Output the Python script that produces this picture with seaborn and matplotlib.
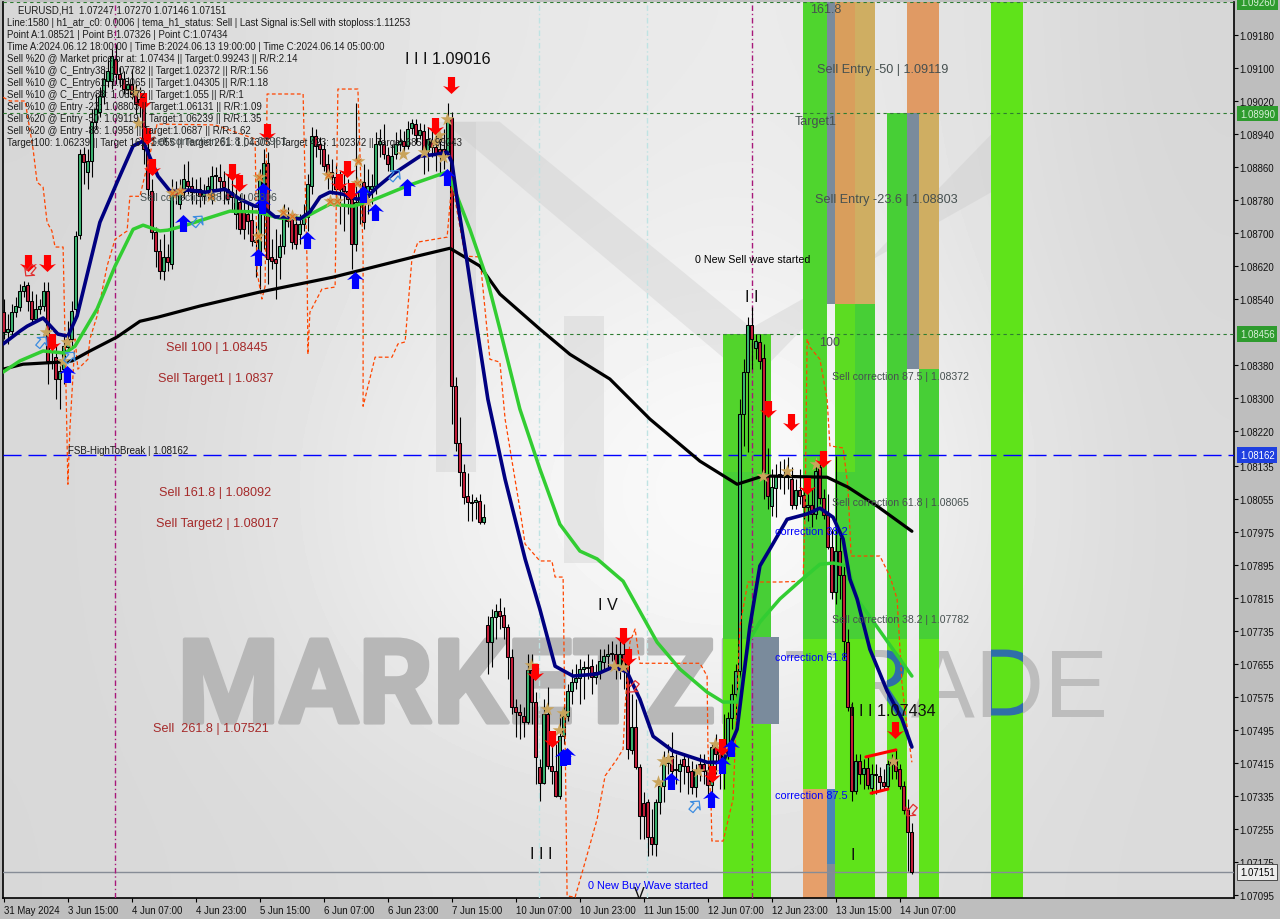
import matplotlib
matplotlib.use("Agg")
import matplotlib.pyplot as plt
import matplotlib.patheffects as pe
import numpy as np
import seaborn as sns
from matplotlib.path import Path
from matplotlib.transforms import Affine2D

# EURUSD H1 candles
opens = [1.08508,1.08460,1.08462,1.08508,1.08520,1.08559,1.08574,1.08535,1.08491,1.08516,1.08523,1.08559,1.08390,1.08399,1.08346,1.08370,
1.08423,1.08443,1.08516,1.08695,1.08891,1.08848,1.08874,1.08969,1.08993,1.09032,1.09068,1.09068,1.09122,1.09085,1.09073,1.09049,
1.09061,1.09037,1.09025,1.09008,1.08903,1.08802,1.08702,1.08656,1.08608,1.08642,1.08625,1.08802,1.08770,1.08799,1.08826,1.08814,
1.08799,1.08806,1.08789,1.08802,1.08806,1.08838,1.08836,1.08826,1.08806,1.08799,1.08746,1.08775,1.08751,1.08746,1.08731,1.08683,
1.08654,1.08806,1.08869,1.08642,1.08637,1.08642,1.08668,1.08739,1.08734,1.08722,1.08697,1.08722,1.08739,1.08814,1.08935,1.08916,
1.08903,1.08867,1.08848,1.08836,1.08806,1.08814,1.08802,1.08782,1.08673,1.08775,1.08823,1.08787,1.08806,1.08814,1.08916,1.08916,
1.08889,1.08850,1.08891,1.08916,1.08923,1.08911,1.08954,1.08964,1.08937,1.08947,1.08899,1.08923,1.08908,1.08903,1.08903,1.08896,
1.08979,1.08329,1.08191,1.08120,1.08062,1.08048,1.08048,1.08050,1.07999,1.07750,1.07708,1.07769,1.07783,1.07774,1.07745,1.07672,
1.07551,1.07539,1.07529,1.07514,1.07640,1.07563,1.07405,1.07367,1.07534,1.07408,1.07396,1.07335,1.07480,1.07529,1.07590,1.07611,
1.07621,1.07643,1.07648,1.07650,1.07624,1.07636,1.07660,1.07674,1.07679,1.07679,1.07650,1.07679,1.07655,1.07447,1.07502,1.07405,
1.07318,1.07321,1.07236,1.07219,1.07321,1.07359,1.07415,1.07432,1.07400,1.07396,1.07425,1.07408,1.07396,1.07357,1.07413,1.07413,
1.07398,1.07362,1.07454,1.07442,1.07417,1.07461,1.07524,1.07582,1.07638,1.08261,1.08363,1.08477,1.08421,1.08436,1.08397,1.08111,
1.08038,1.08082,1.08113,1.08108,1.08123,1.08103,1.08040,1.08077,1.08065,1.08036,1.08040,1.08019,1.08133,1.08057,1.08016,1.07939,
1.07830,1.07929,1.07871,1.07708,1.07551,1.07347,1.07420,1.07388,1.07403,1.07355,1.07388,1.07384,1.07369,1.07359,1.07413,1.07425,
1.07400,1.07359,1.07301,1.07247]
closes = [1.08460,1.08467,1.08508,1.08523,1.08559,1.08571,1.08535,1.08491,1.08516,1.08523,1.08559,1.08390,1.08387,1.08346,1.08365,1.08426,
1.08443,1.08511,1.08693,1.08891,1.08872,1.08874,1.08969,1.09000,1.09032,1.09073,1.09092,1.09129,1.09085,1.09073,1.09049,1.09061,
1.09037,1.09012,1.09010,1.08903,1.08806,1.08702,1.08656,1.08608,1.08642,1.08630,1.08802,1.08792,1.08799,1.08831,1.08814,1.08799,
1.08806,1.08789,1.08802,1.08814,1.08838,1.08840,1.08826,1.08811,1.08782,1.08787,1.08787,1.08709,1.08709,1.08729,1.08680,1.08678,
1.08831,1.08869,1.08637,1.08632,1.08627,1.08668,1.08739,1.08729,1.08678,1.08673,1.08722,1.08739,1.08819,1.08935,1.08911,1.08903,
1.08862,1.08848,1.08836,1.08806,1.08814,1.08802,1.08782,1.08673,1.08775,1.08799,1.08726,1.08814,1.08814,1.08916,1.08923,1.08891,
1.08867,1.08886,1.08916,1.08923,1.08911,1.08952,1.08966,1.08937,1.08949,1.08899,1.08928,1.08908,1.08891,1.08889,1.08879,1.08976,
1.08329,1.08191,1.08120,1.08060,1.08048,1.08045,1.08053,1.07999,1.08011,1.07708,1.07769,1.07783,1.07771,1.07745,1.07672,1.07551,
1.07539,1.07531,1.07514,1.07640,1.07563,1.07430,1.07367,1.07534,1.07408,1.07396,1.07335,1.07480,1.07529,1.07590,1.07611,1.07621,
1.07643,1.07648,1.07645,1.07624,1.07636,1.07662,1.07674,1.07679,1.07682,1.07650,1.07679,1.07650,1.07449,1.07502,1.07405,1.07287,
1.07287,1.07236,1.07219,1.07321,1.07359,1.07417,1.07430,1.07396,1.07398,1.07413,1.07408,1.07393,1.07357,1.07396,1.07396,1.07396,
1.07362,1.07454,1.07437,1.07417,1.07461,1.07524,1.07582,1.07638,1.08261,1.08363,1.08477,1.08443,1.08438,1.08390,1.08120,1.08062,
1.08084,1.08111,1.08116,1.08113,1.08113,1.08040,1.08077,1.08062,1.08036,1.08040,1.08019,1.08123,1.08057,1.08016,1.07939,1.07830,
1.07929,1.07871,1.07711,1.07551,1.07347,1.07420,1.07388,1.07403,1.07362,1.07388,1.07386,1.07369,1.07359,1.07413,1.07420,1.07396,
1.07359,1.07301,1.07248,1.07151]
highs = [1.08540,1.08503,1.08528,1.08545,1.08576,1.08583,1.08581,1.08559,1.08552,1.08540,1.08581,1.08581,1.08414,1.08431,1.08394,1.08455,
1.08486,1.08535,1.08705,1.08903,1.08908,1.08903,1.09000,1.09037,1.09054,1.09097,1.09122,1.09146,1.09158,1.09102,1.09092,1.09078,
1.09097,1.09061,1.09054,1.09037,1.08952,1.08831,1.08714,1.08685,1.08697,1.08673,1.08831,1.08826,1.08831,1.08867,1.08874,1.08836,
1.08831,1.08836,1.08819,1.08836,1.08862,1.08860,1.08867,1.08850,1.08843,1.08843,1.08806,1.08794,1.08794,1.08770,1.08770,1.08722,
1.08855,1.08903,1.08896,1.08685,1.08709,1.08697,1.08770,1.08763,1.08753,1.08746,1.08746,1.08770,1.08843,1.08957,1.08952,1.08933,
1.08920,1.08891,1.08879,1.08867,1.08850,1.08843,1.08831,1.08819,1.09015,1.08831,1.08867,1.08855,1.08843,1.08945,1.08952,1.08964,
1.08908,1.08916,1.08945,1.08952,1.08947,1.08971,1.08976,1.08976,1.08966,1.08964,1.08957,1.08957,1.08952,1.08940,1.08952,1.09015,
1.08993,1.08351,1.08254,1.08140,1.08118,1.08067,1.08060,1.08067,1.08043,1.07771,1.07788,1.07800,1.07815,1.07793,1.07752,1.07691,
1.07570,1.07558,1.07551,1.07679,1.07679,1.07587,1.07425,1.07570,1.07599,1.07461,1.07461,1.07534,1.07558,1.07607,1.07643,1.07655,
1.07667,1.07662,1.07679,1.07667,1.07655,1.07691,1.07691,1.07704,1.07711,1.07704,1.07716,1.07728,1.07679,1.07582,1.07570,1.07413,
1.07345,1.07328,1.07304,1.07328,1.07364,1.07444,1.07461,1.07490,1.07437,1.07425,1.07437,1.07430,1.07420,1.07413,1.07437,1.07437,
1.07420,1.07461,1.07485,1.07473,1.07534,1.07539,1.07607,1.07655,1.08297,1.08394,1.08496,1.08520,1.08455,1.08455,1.08431,1.08179,
1.08128,1.08140,1.08147,1.08152,1.08157,1.08133,1.08103,1.08128,1.08103,1.08067,1.08079,1.08152,1.08164,1.08079,1.08067,1.07982,
1.08159,1.07963,1.07897,1.07740,1.07563,1.07437,1.07437,1.07425,1.07430,1.07413,1.07413,1.07405,1.07400,1.07425,1.07437,1.07449,
1.07413,1.07371,1.07328,1.07270]
lows = [1.08443,1.08431,1.08448,1.08496,1.08511,1.08545,1.08511,1.08479,1.08486,1.08503,1.08511,1.08334,1.08370,1.08297,1.08273,1.08334,
1.08414,1.08419,1.08503,1.08685,1.08819,1.08806,1.08836,1.08952,1.08981,1.09012,1.09054,1.09049,1.09061,1.09054,1.09037,1.09029,
1.09025,1.08988,1.08981,1.08867,1.08782,1.08685,1.08617,1.08588,1.08586,1.08608,1.08612,1.08770,1.08758,1.08782,1.08794,1.08770,
1.08770,1.08763,1.08770,1.08782,1.08770,1.08802,1.08782,1.08770,1.08770,1.08753,1.08709,1.08697,1.08685,1.08697,1.08668,1.08593,
1.08564,1.08661,1.08576,1.08612,1.08540,1.08588,1.08649,1.08714,1.08661,1.08661,1.08673,1.08705,1.08705,1.08794,1.08884,1.08867,
1.08850,1.08806,1.08794,1.08770,1.08722,1.08705,1.08746,1.08612,1.08656,1.08722,1.08709,1.08746,1.08770,1.08794,1.08884,1.08879,
1.08850,1.08843,1.08879,1.08899,1.08884,1.08903,1.08940,1.08916,1.08928,1.08843,1.08850,1.08884,1.08850,1.08843,1.08855,1.08884,
1.08237,1.08171,1.08086,1.08043,1.08002,1.08002,1.08006,1.07994,1.07994,1.07631,1.07648,1.07716,1.07740,1.07716,1.07619,1.07534,
1.07478,1.07473,1.07478,1.07510,1.07510,1.07364,1.07323,1.07364,1.07400,1.07364,1.07333,1.07328,1.07461,1.07517,1.07558,1.07594,
1.07558,1.07570,1.07619,1.07582,1.07607,1.07619,1.07638,1.07643,1.07662,1.07619,1.07619,1.07594,1.07425,1.07437,1.07400,1.07231,
1.07231,1.07190,1.07192,1.07190,1.07291,1.07321,1.07388,1.07376,1.07364,1.07345,1.07364,1.07340,1.07340,1.07333,1.07371,1.07364,
1.07340,1.07328,1.07388,1.07352,1.07352,1.07425,1.07497,1.07522,1.07619,1.08184,1.08169,1.08370,1.08394,1.08370,1.08055,1.08031,
1.08014,1.08011,1.08079,1.08067,1.08079,1.08031,1.08031,1.08043,1.08006,1.08002,1.07987,1.08006,1.08043,1.08006,1.07934,1.07813,
1.07800,1.07813,1.07667,1.07541,1.07323,1.07340,1.07364,1.07352,1.07352,1.07340,1.07340,1.07347,1.07352,1.07352,1.07376,1.07376,
1.07352,1.07291,1.07153,1.07146]

# indicator lines: bar position, price
navy_x = [-0.1,4.1,5.9,9.9,13.6,16.1,18.4,24.1,28.4,32.4,34.9,38.6,41.6,46.6,50.4,55.4,59.1,62.9,64.6,67.9,70.4,74.1,76.6,79.1,81.6,84.9,88.4,90.9,93.4,97.4,104.1,108.4,110.9,112.1,113.4,115.9,118.4,121.1,125.4,130.4,134.1,137.9,142.4,148.4,152.4,155.9,159.1,162.4,167.4,175.9,179.9,183.4,186.6,189.1,191.6,195.9,200.9,204.1,207.4,209.9,211.6,213.4,216.6,220.9,224.6,227.1]
navy_y = [1.08431,1.08462,1.08474,1.08494,1.08455,1.08450,1.08499,1.08726,1.08823,1.08911,1.08923,1.08838,1.08802,1.08804,1.08799,1.08806,1.08782,1.08765,1.08765,1.08739,1.08739,1.08734,1.08751,1.08787,1.08799,1.08794,1.08782,1.08787,1.08811,1.08843,1.08886,1.08891,1.08896,1.08872,1.08782,1.08630,1.08467,1.08297,1.08103,1.07910,1.07788,1.07650,1.07626,1.07631,1.07648,1.07636,1.07570,1.07480,1.07444,1.07417,1.07417,1.07497,1.07747,1.07893,1.07934,1.08006,1.08019,1.08033,1.08011,1.07958,1.07861,1.07813,1.07691,1.07590,1.07522,1.07454]
green_x = [-0.1,4.1,9.9,15.4,17.9,23.4,27.9,32.4,34.9,39.1,41.1,44.9,56.6,63.4,69.1,74.9,81.6,87.4,91.6,100.9,110.9,112.4,116.6,120.9,124.1,129.1,134.1,139.1,144.1,148.4,154.9,163.4,169.1,175.9,179.9,183.4,186.6,189.1,194.1,199.1,204.1,207.4,211.1,213.4,218.4,227.1]
green_y = [1.08363,1.08390,1.08414,1.08409,1.08426,1.08516,1.08620,1.08709,1.08719,1.08705,1.08707,1.08717,1.08753,1.08751,1.08736,1.08736,1.08770,1.08765,1.08777,1.08814,1.08848,1.08814,1.08709,1.08588,1.08467,1.08273,1.08128,1.07994,1.07929,1.07910,1.07856,1.07708,1.07643,1.07587,1.07563,1.07563,1.07716,1.07757,1.07813,1.07856,1.07897,1.07900,1.07893,1.07813,1.07745,1.07626]
black_x = [-0.1,4.9,14.1,17.1,21.6,28.4,34.1,38.6,49.1,64.1,82.4,103.4,111.6,119.1,124.1,134.1,141.6,151.6,161.6,174.1,183.4,189.9,205.9,211.1,218.4,227.1]
black_y = [1.08370,1.08382,1.08387,1.08390,1.08414,1.08448,1.08486,1.08496,1.08523,1.08557,1.08593,1.08644,1.08663,1.08620,1.08552,1.08467,1.08406,1.08346,1.08249,1.08147,1.08091,1.08111,1.08108,1.08084,1.08038,1.07977]
orange_x = [-0.1,1.6,5.4,7.4,8.4,9.9,10.9,12.1,12.9,14.9,15.4,16.1,16.6,17.9,18.6,21.1,21.6,23.4,25.9,27.9,30.9,31.6,34.1,38.4,39.1,52.9,62.9,63.4,64.6,65.4,65.9,74.9,75.9,76.1,76.6,79.6,82.9,83.6,88.6,89.9,89.9,92.9,97.1,98.6,100.4,102.1,103.6,110.9,112.1,115.4,119.1,121.6,124.1,125.4,129.1,130.4,134.1,137.1,137.9,139.9,140.9,142.9,144.9,148.4,150.4,153.4,154.9,155.4,156.6,157.9,159.1,174.1,175.9,176.1,176.9,177.1,179.9,182.4,184.1,186.1,194.1,199.9,200.4,200.9,201.6,204.1,205.9,206.6,209.9,211.1,211.9,219.1,221.6,223.4,224.6,225.4,227.1]
orange_y = [1.09029,1.09020,1.09020,1.08903,1.08823,1.08811,1.08726,1.08705,1.08666,1.08666,1.08436,1.08091,1.08225,1.08443,1.08370,1.08394,1.08443,1.08499,1.08620,1.08685,1.08705,1.08789,1.08789,1.08964,1.08964,1.08962,1.08928,1.08605,1.08540,1.08571,1.09037,1.09037,1.08620,1.08406,1.08508,1.08564,1.08569,1.09049,1.09049,1.08654,1.08280,1.08399,1.08399,1.08431,1.08436,1.08637,1.08678,1.08690,1.08823,1.08644,1.08642,1.08394,1.08387,1.08249,1.08031,1.07946,1.07905,1.07905,1.07866,1.07866,1.07093,1.07090,1.07158,1.07279,1.07384,1.07425,1.07449,1.07553,1.07708,1.07740,1.07657,1.07657,1.07626,1.07456,1.07311,1.07226,1.07226,1.07328,1.07747,1.07854,1.07854,1.07856,1.08023,1.08443,1.08423,1.08394,1.08297,1.08184,1.08179,1.08086,1.07917,1.07917,1.07868,1.07813,1.07611,1.07539,1.07417]

# signal markers
sell_x = [6.1,10.9,34.9,35.9,37.1,12.1,57.1,58.9,65.9,83.9,85.9,86.9,107.9,111.9,132.9,137.1,154.9,156.1,177.1,179.6,191.1,196.9,200.9,204.9,222.9]
sell_y = [1.08627,1.08627,1.09020,1.08935,1.08860,1.08436,1.08848,1.08821,1.08945,1.08823,1.08855,1.08802,1.08959,1.09059,1.07636,1.07473,1.07723,1.07672,1.07388,1.07454,1.08273,1.08242,1.08086,1.08152,1.07495]
buy_x = [15.9,44.9,63.6,64.9,64.6,75.9,87.9,89.9,92.9,100.9,110.9,139.9,140.9,166.9,176.9,179.6,181.9]
buy_y = [1.08358,1.08724,1.08642,1.08802,1.08768,1.08683,1.08586,1.08794,1.08751,1.08811,1.08836,1.07430,1.07432,1.07371,1.07328,1.07410,1.07451]
hollow_buy_x = [9.6,16.6,48.6,97.9,172.9]
hollow_buy_y = [1.08436,1.08399,1.08729,1.08840,1.07311]
hollow_sell_x = [6.6,157.4,226.9]
hollow_sell_y = [1.08608,1.07599,1.07299]
star_x = [32.9,33.6,42.1,44.1,51.9,63.6,63.9,69.9,72.1,81.1,81.6,83.4,88.6,88.4,90.9,99.9,105.1,107.9,108.9,109.9,110.9,10.6,14.9,15.9,131.9,135.9,139.9,138.9,152.6,154.9,163.6,164.9,166.1,173.6,177.9,179.6,177.1,189.9,195.9,203.1,222.4]
star_y = [1.09042,1.08966,1.08797,1.08802,1.08789,1.08693,1.08836,1.08751,1.08741,1.08840,1.08777,1.08777,1.08874,1.08821,1.08777,1.08891,1.08896,1.08920,1.08937,1.08884,1.08976,1.08460,1.08390,1.08436,1.07653,1.07546,1.07536,1.07495,1.07650,1.07648,1.07369,1.07420,1.07425,1.07396,1.07461,1.07449,1.07393,1.08111,1.08123,1.08140,1.07420]

# shaded zones: left bar, right bar, upper price, lower price, colour
lime = "#5FE31A"
dark = "#47CF36"
zones = [
    (179.9,191.9,1.08455,1.08120,"#52D42C"),(179.9,191.9,1.08120,1.07716,dark),(179.9,191.9,1.07716,1.07088,lime),
    (199.9,205.9,1.09260,1.08120,"#4FD52E"),(199.9,205.9,1.08120,1.07716,dark),(199.9,205.9,1.07716,1.07352,lime),(199.9,205.9,1.07352,1.07088,"#E69F6A"),
    (205.9,207.9,1.09260,1.08528,"#7A8B9C"),(205.9,207.9,1.07352,1.07170,"#4A86B8"),(205.9,207.9,1.07170,1.07088,"#7F8C99"),
    (207.9,212.9,1.09260,1.08528,"#D99E5C"),(207.9,212.9,1.08528,1.08120,"#5CDC22"),(207.9,212.9,1.08120,1.07716,dark),(207.9,212.9,1.07716,1.07088,lime),
    (212.9,217.9,1.09260,1.08528,"#CFAE62"),(212.9,217.9,1.08528,1.07716,dark),(212.9,217.9,1.07716,1.07088,lime),
    (220.9,225.9,1.08990,1.07716,dark),(220.9,225.9,1.07716,1.07088,lime),
    (225.9,228.9,1.08990,1.08370,"#7A8B9C"),
    (228.9,233.9,1.08990,1.08370,"#CFAE62"),(228.9,233.9,1.08370,1.07716,dark),(228.9,233.9,1.07716,1.07088,lime),
    (225.9,233.9,1.09260,1.08990,"#E09A64"),
    (246.9,254.9,1.09260,1.07088,lime),
    (186.9,193.9,1.07721,1.07510,"#7A8B9C"),
]

# background shading of the chart window (grey levels)
bg_grid = [
    [214,222,230,232,236,226,214],
    [216,222,232,238,240,228,216],
    [216,226,240,250,254,236,218],
    [216,224,238,246,248,232,218],
    [216,218,222,224,226,222,218],
]

date_labels = ["31 May 2024","3 Jun 15:00","4 Jun 07:00","4 Jun 23:00","5 Jun 15:00","6 Jun 07:00","6 Jun 23:00","7 Jun 15:00",
               "10 Jun 07:00","10 Jun 23:00","11 Jun 15:00","12 Jun 07:00","12 Jun 23:00","13 Jun 15:00","14 Jun 07:00"]
price_ticks = [1.09180,1.09100,1.09020,1.08940,1.08860,1.08780,1.08700,1.08620,1.08540,1.08380,1.08300,1.08220,1.08135,1.08055,
               1.07975,1.07895,1.07815,1.07735,1.07655,1.07575,1.07495,1.07415,1.07335,1.07255,1.07175,1.07095]

header_lines = [
    "Line:1580 | h1_atr_c0: 0.0006 | tema_h1_status: Sell | Last Signal is:Sell with stoploss:1.11253",
    "Point A:1.08521 | Point B:1.07326 | Point C:1.07434",
    "Time A:2024.06.12 18:00:00 | Time B:2024.06.13 19:00:00 | Time C:2024.06.14 05:00:00",
    "Sell %20 @ Market price or at: 1.07434 || Target:0.99243 || R/R:2.14",
    "Sell %10 @ C_Entry38: 1.07782 || Target:1.02372 || R/R:1.56",
    "Sell %10 @ C_Entry61: 1.08065 || Target:1.04305 || R/R:1.18",
    "Sell %10 @ C_Entry88: 1.08372 || Target:1.055 || R/R:1",
    "Sell %10 @ Entry -23: 1.08803 || Target:1.06131 || R/R:1.09",
    "Sell %20 @ Entry -50: 1.09119 || Target:1.06239 || R/R:1.35",
    "Sell %20 @ Entry -88: 1.0958 || Target:1.0687 || R/R:1.62",
    "Target100: 1.06239 || Target 161: 1.055 || Target 261: 1.04305 || Target 423: 1.02372 || Target 685: 0.99243",
]

sns.set_theme(style="white")
plt.rcParams["font.family"] = ["Liberation Sans", "DejaVu Sans"]

W, H = 1280, 920
fig = plt.figure(figsize=(12.8, 9.2), dpi=100, facecolor="#BEBEBE")
ax = fig.add_axes([3 / W, 1 - 899 / H, 1231 / W, 896 / H])
x_left, x_right = -0.125, 307.625
y_low, y_high = 1.07088, 1.09260


def put(px, py, text, size=6.9, color="black", **kw):
    # free text placed by window position
    return fig.text(px / W, 1 - py / H, text, fontsize=size, color=color, va="center", zorder=20, **kw)


# window background
ax.imshow(np.array(bg_grid), cmap="gray", vmin=0, vmax=255, aspect="auto", interpolation="bicubic",
          extent=[x_left, x_right, y_low, y_high], zorder=0)

# logo shapes behind everything
logo_parts = [
    ([108, 118, 118, 108], [1.08970, 1.08970, 1.08120, 1.08120]),
    ([110, 124, 187, 187], [1.08970, 1.08970, 1.08470, 1.08340]),
    ([187, 187, 249, 249], [1.08470, 1.08340, 1.08960, 1.08810]),
    ([140, 150, 150, 140], [1.08500, 1.08500, 1.07900, 1.07900]),
]
for part_x, part_y in logo_parts:
    ax.fill(part_x, part_y, color="#C8C8C8", alpha=0.35, lw=0, zorder=1)

mark1 = ax.text(43.5, 1.07591, "MARKETZI", fontsize=84, fontweight="bold", family="Roboto", color="#B7B7B7",
                va="center", ha="left", zorder=1.5)
mark1.set_path_effects([pe.withStroke(linewidth=3, foreground="#B7B7B7")])
mark2 = ax.text(195, 1.07591, "TRADE", fontsize=69, color="#BDBDBD", va="center", ha="left", zorder=1.5)

for left, right, top, bottom, colour in zones:
    ax.fill_between([left, right], bottom, top, color=colour, lw=0, zorder=2)

# the logo shows through the zones in blue, drawn as paths so the clip takes effect
mark3 = ax.text(195, 1.07591, "TRADE", fontsize=69, color="#2F6EA8", va="center", ha="left", zorder=2.5)
clip_rects = [(220.9, 225.9), (246.9, 254.9)]
verts, codes = [], []
for left, right in clip_rects:
    verts += [(left, y_low), (right, y_low), (right, y_high), (left, y_high), (left, y_low)]
    codes += [Path.MOVETO, Path.LINETO, Path.LINETO, Path.LINETO, Path.CLOSEPOLY]
mark3.set_clip_path(Path(verts, codes), ax.transData)
mark3.set_clip_on(True)
mark3.set_path_effects([pe.Normal()])

# level lines
for level in [1.09260, 1.08990, 1.08456]:
    ax.axhline(level, color="#2E7D32", lw=0.8, ls=(0, (3, 3)), zorder=3)
ax.axhline(1.08162, color="#0000FF", lw=1.0, ls=(0, (13, 5)), zorder=3)
ax.axhline(1.07151, color="#868C96", lw=1.0, zorder=3)
for bar, colour in [(27.9, "#A8187A"), (187, "#A8187A"), (133.9, "#BFE3E3"), (160.9, "#BFE3E3")]:
    ax.axvline(bar, color=colour, lw=1.0, ls=(0, (4, 2, 1, 2)), zorder=3)

# candles
bars = np.arange(len(closes))
opens_a, closes_a = np.array(opens), np.array(closes)
up = closes_a >= opens_a
ax.vlines(bars, lows, highs, color="black", lw=0.8, zorder=4)
ax.bar(bars[up], (closes_a - opens_a)[up], bottom=opens_a[up], width=0.7, color="#3CB371",
       edgecolor="black", linewidth=0.75, zorder=5)
ax.bar(bars[~up], (opens_a - closes_a)[~up], bottom=closes_a[~up], width=0.7, color="#C41E3A",
       edgecolor="black", linewidth=0.75, zorder=5)

# indicators
sns.lineplot(x=orange_x, y=orange_y, sort=False, estimator=None, color="#FF4500", lw=0.9, ls=(0, (3, 2)), ax=ax, zorder=6)
sns.lineplot(x=black_x, y=black_y, sort=False, estimator=None, color="black", lw=2.3, ax=ax, zorder=7)
sns.lineplot(x=green_x, y=green_y, sort=False, estimator=None, color="#32CD32", lw=2.5, ax=ax, zorder=7)
sns.lineplot(x=navy_x, y=navy_y, sort=False, estimator=None, color="#000080", lw=2.6, ax=ax, zorder=8)

# wedge around the last consolidation
sns.lineplot(x=[215.6, 223.1], y=[1.07430, 1.07447], sort=False, estimator=None, color="#FF0000", lw=2.2, ax=ax, zorder=8)
sns.lineplot(x=[216.9, 221.1], y=[1.07342, 1.07352], sort=False, estimator=None, color="#FF0000", lw=2.2, ax=ax, zorder=8)

# arrow shapes
arrow_up = Path([(0, 1), (1, 0.05), (0.42, 0.22), (0.42, -1), (-0.42, -1), (-0.42, 0.22), (-1, 0.05), (0, 1)], closed=True)
arrow_down = arrow_up.transformed(Affine2D().scale(1, -1))
arrow_hollow_buy = arrow_up.transformed(Affine2D().rotate_deg(-40))
arrow_hollow_sell = arrow_up.transformed(Affine2D().rotate_deg(140))

sns.scatterplot(x=star_x, y=star_y, marker="*", s=110, color="#C9A45C", linewidth=0, ax=ax, zorder=9)
sns.scatterplot(x=star_x[2:14], y=star_y[2:14], marker="x", s=18, color="#E07020", linewidth=0.8, ax=ax, zorder=9)
sns.scatterplot(x=sell_x, y=sell_y, marker=arrow_down, s=150, color="#FF0000", linewidth=0, ax=ax, zorder=10)
sns.scatterplot(x=buy_x, y=buy_y, marker=arrow_up, s=150, color="#0000FF", linewidth=0, ax=ax, zorder=10)
ax.scatter(hollow_buy_x, hollow_buy_y, marker=arrow_hollow_buy, s=90, facecolors="none", edgecolors="#3C8CE0", linewidths=0.9, zorder=10)
ax.scatter(hollow_sell_x, hollow_sell_y, marker=arrow_hollow_sell, s=90, facecolors="none", edgecolors="#E03030", linewidths=0.9, zorder=10)

ax.set_xlim(x_left, x_right)
ax.set_ylim(y_low, y_high)
ax.set_xlabel("")
ax.set_ylabel("")

# axes and ticks
ax.set_xticks(np.arange(0, 225, 16))
ax.set_xticklabels(date_labels, ha="left", fontsize=6.9, color="#101010")
ax.yaxis.tick_right()
ax.set_yticks(price_ticks)
ax.set_yticklabels([f"{p:.5f}" for p in price_ticks], fontsize=6.9, color="#101010")
ax.tick_params(axis="x", length=3, width=0.8, color="black", pad=2, bottom=True)
ax.tick_params(axis="y", length=3, width=0.8, color="black", pad=1, right=True, left=False)
for side in ["left", "bottom", "right"]:
    ax.spines[side].set_visible(True)
    ax.spines[side].set_color("black")
    ax.spines[side].set_linewidth(1.2)
ax.spines["top"].set_visible(False)

# coloured price flags on the scale
flags = [(3, "1.09260", "#2E9B2E", "#D8F0D8"), (114.5, "1.08990", "#2E9B2E", "#D8F0D8"), (335, "1.08456", "#2E9B2E", "#D8F0D8"),
         (456, "1.08162", "#1E3FE0", "white"), (873, "1.07151", "#EDEDED", "black")]
for fy, ftext, fbg, ftxt in flags:
    put(1240, fy, ftext, size=6.9, color=ftxt,
        bbox=dict(boxstyle="square,pad=0.28", facecolor=fbg, edgecolor="#333333" if fbg == "#EDEDED" else "none", lw=0.6))

# chart header
put(18, 10.5, "EURUSD,H1  1.07247 1.07270 1.07146 1.07151", color="#1A1A1A")
for n, line in enumerate(header_lines):
    put(7, 23.5 + 12 * n, line, color="#1C1C1C")

# gray and coloured annotations
gray = "#465050"
put(140, 198, "Sell correction 88.6 | 1.08806", size=7.6, color=gray)
put(150, 142, "Sell correction 61.8 | 1.08961", size=7.6, color=gray)
put(817, 70, "Sell Entry -50 | 1.09119", size=9.1, color=gray)
put(815, 200, "Sell Entry -23.6 | 1.08803", size=9.1, color=gray)
put(810, 10, "161.8", size=9, color=gray)
put(795, 122, "Target1", size=9, color=gray)
put(819, 343, "100", size=9, color=gray)
put(832, 377, "Sell correction 87.5 | 1.08372", size=7.6, color=gray)
put(832, 503, "Sell correction 61.8 | 1.08065", size=7.6, color=gray)
put(832, 620, "Sell correction 38.2 | 1.07782", size=7.6, color=gray)
put(775, 532, "correction 38.2", size=7.8, color="#0000FF")
put(775, 658, "correction 61.8", size=7.8, color="#0000FF")
put(775, 796, "correction 87.5", size=7.8, color="#0000FF")
put(588, 886, "0 New Buy Wave started", size=7.8, color="#0000FF")
put(695, 260, "0 New Sell wave started", size=7.7, color="black")
put(68, 451, "FSB-HighToBreak | 1.08162", size=7.0, color="#1C1C1C")

brown = "#A52A2A"
put(166, 348, "Sell 100 | 1.08445", size=9.1, color=brown)
put(158, 379, "Sell Target1 | 1.0837", size=9.1, color=brown)
put(159, 493, "Sell 161.8 | 1.08092", size=9.1, color=brown)
put(156, 524, "Sell Target2 | 1.08017", size=9.1, color=brown)
put(153, 729, "Sell  261.8 | 1.07521", size=9.1, color=brown)

put(405, 60, "I I I 1.09016", size=11.6, color="#101010")
put(850, 711, "I I I 1.07434", size=11.6, color="#101010")
put(598, 606, "I V", size=11.6, color="#101010")
put(530, 855, "I I I", size=11.6, color="#101010")
put(850, 856, "I", size=11.6, color="#101010")
put(745, 298, "I I", size=11.6, color="#101010")
put(634, 895, "V", size=11.6, color="#101010")

fig.savefig("out.png", dpi=100, facecolor=fig.get_facecolor())
